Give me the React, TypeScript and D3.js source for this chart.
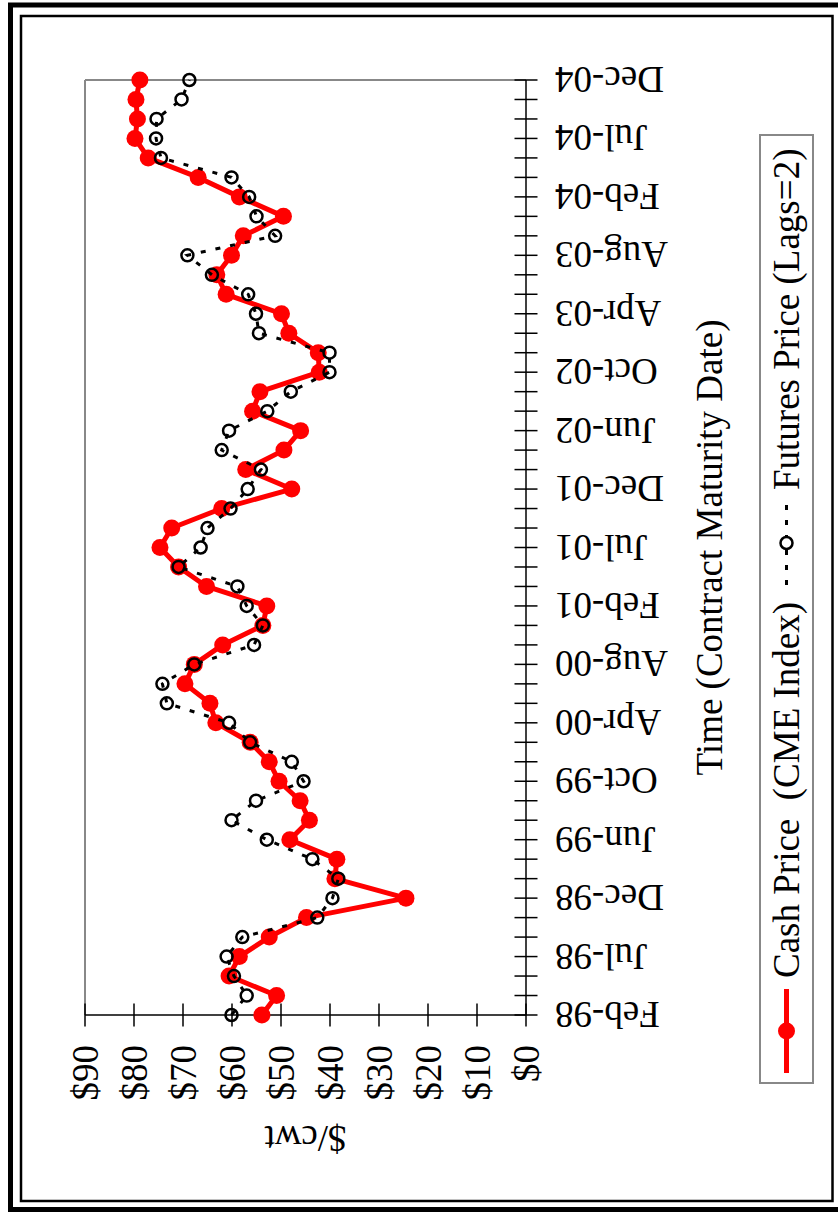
import React from "react";
import * as d3 from "d3";

// contract months, Feb-98 .. Dec-04 (lean hog months)
const categories = [
  "Feb-98", "Apr-98", "Jun-98", "Jul-98", "Aug-98", "Oct-98", "Dec-98",
  "Feb-99", "Apr-99", "Jun-99", "Jul-99", "Aug-99", "Oct-99", "Dec-99",
  "Feb-00", "Apr-00", "Jun-00", "Jul-00", "Aug-00", "Oct-00", "Dec-00",
  "Feb-01", "Apr-01", "Jun-01", "Jul-01", "Aug-01", "Oct-01", "Dec-01",
  "Feb-02", "Apr-02", "Jun-02", "Jul-02", "Aug-02", "Oct-02", "Dec-02",
  "Feb-03", "Apr-03", "Jun-03", "Jul-03", "Aug-03", "Oct-03", "Dec-03",
  "Feb-04", "Apr-04", "Jun-04", "Jul-04", "Aug-04", "Oct-04", "Dec-04"
];

const cashPrice = [
  53.9, 50.9, 60.6, 58.5, 52.4, 44.8, 24.5,
  39.0, 38.6, 48.2, 44.2, 46.1, 50.4, 52.4,
  56.3, 63.3, 64.5, 69.6, 67.7, 61.9, 53.7,
  52.9, 65.2, 70.9, 74.7, 72.3, 62.1, 47.8,
  57.2, 49.4, 46.0, 55.8, 54.3, 42.2, 42.4,
  48.4, 49.9, 61.2, 63.1, 60.1, 57.7, 49.5,
  58.5, 66.9, 77.1, 79.8, 79.3, 79.6, 78.8
];

const futuresPrice = [
  60.1, 57.0, 59.6, 61.1, 57.9, 42.6, 39.5,
  38.3, 43.6, 52.9, 60.1, 55.1, 45.4, 47.8,
  56.3, 60.6, 73.3, 74.2, 67.7, 55.5, 53.7,
  57.0, 58.9, 70.9, 66.4, 65.0, 60.3, 56.8,
  54.1, 62.1, 60.6, 52.8, 48.0, 40.1, 40.1,
  54.5, 55.1, 56.7, 64.1, 69.1, 51.2, 55.0,
  56.5, 60.1, 74.5, 75.5, 75.4, 70.3, 68.7
];

const priceTicks = [0, 10, 20, 30, 40, 50, 60, 70, 80, 90];

const W = 838;
const H = 1213;
const FONT = "'Liberation Serif', 'Times New Roman', serif";
const FS = 37;

export default function App() {
  // chart is laid out landscape, then turned a quarter turn counter-clockwise
  const x = d3.scalePoint<string>().domain(categories).range([198, 1133]);
  const y = d3.scaleLinear().domain([0, 90]).range([526, 85]);

  const cashLine = d3
    .line<number>()
    .x((d, i) => x(categories[i]) as number)
    .y(d => y(d));
  const futLine = d3
    .line<number>()
    .x((d, i) => x(categories[i]) as number)
    .y(d => y(d));

  const left = x.range()[0];
  const right = x.range()[1];
  const top = y(90);
  const bottom = y(0);

  return (
    <svg
      width={W}
      height={H}
      style={{ position: "absolute", left: 0, top: 0, background: "#fff" }}
      fontFamily={FONT}
    >
      <rect x={0} y={0} width={W} height={H} fill="#fff" />
      {/* frames */}
      <rect x={10.5} y={5} width={840} height={1204.5} fill="none" stroke="#000" strokeWidth={5} />
      <rect x={21} y={16} width={811.5} height={1185} fill="none" stroke="#000" strokeWidth={2.5} />

      <g transform={`translate(0,${H}) rotate(-90)`}>
        {/* plot border */}
        <line x1={left} x2={right} y1={top} y2={top} stroke="#888" strokeWidth={2} />
        <line x1={right} x2={right} y1={top} y2={bottom} stroke="#888" strokeWidth={2} />

        {/* value axis */}
        <line x1={left} x2={left} y1={top} y2={bottom} stroke="#000" strokeWidth={1.5} />
        {priceTicks.map(t => (
          <g key={t}>
            <line x1={left - 11.5} x2={left + 11.5} y1={y(t)} y2={y(t)} stroke="#000" strokeWidth={1.5} />
            <text x={168} y={y(t)} dy="0.35em" textAnchor="end" fontSize={FS}>
              {"$" + t}
            </text>
          </g>
        ))}
        <text
          transform={`translate(87,${(top + bottom) / 2}) rotate(-90)`}
          textAnchor="middle"
          fontSize={FS}
        >
          $/cwt
        </text>

        {/* category axis */}
        <line x1={left} x2={right} y1={bottom} y2={bottom} stroke="#000" strokeWidth={1.5} />
        {categories.map((c, i) => (
          <g key={c}>
            <line
              x1={x(c)}
              x2={x(c)}
              y1={bottom - 11.5}
              y2={bottom + 11.5}
              stroke="#000"
              strokeWidth={1.5}
            />
            {i % 3 === 0 && (
              <text
                transform={`translate(${x(c)},555) rotate(-90)`}
                textAnchor="end"
                dy="0.35em"
                fontSize={FS}
              >
                {c}
              </text>
            )}
          </g>
        ))}
        <text x={(left + right) / 2} y={722} textAnchor="middle" fontSize={FS}>
          Time (Contract Maturity Date)
        </text>

        {/* cash series */}
        <path
          d={cashLine(cashPrice) as string}
          fill="none"
          stroke="#ff0000"
          strokeWidth={5}
          strokeLinejoin="round"
        />
        {cashPrice.map((v, i) => (
          <circle key={"c" + i} cx={x(categories[i])} cy={y(v)} r={8.5} fill="#ff0000" />
        ))}

        {/* futures series */}
        <path
          d={futLine(futuresPrice) as string}
          fill="none"
          stroke="#000"
          strokeWidth={3}
          strokeDasharray="5,10"
        />
        {futuresPrice.map((v, i) => (
          <circle
            key={"f" + i}
            cx={x(categories[i])}
            cy={y(v)}
            r={6}
            fill="none"
            stroke="#000"
            strokeWidth={2.5}
          />
        ))}

        {/* legend */}
        <rect x={130} y={760} width={948} height={53} fill="#fff" stroke="#888" strokeWidth={2} />
        <line x1={140} x2={224} y1={786.5} y2={786.5} stroke="#ff0000" strokeWidth={5} />
        <circle cx={182} cy={786.5} r={8.5} fill="#ff0000" />
        <text x={235} y={786.5} dy="0.35em" fontSize={FS} style={{ whiteSpace: "pre" }}>
          {"Cash Price  (CME Index)"}
        </text>
        <line
          x1={628}
          x2={712}
          y1={786.5}
          y2={786.5}
          stroke="#000"
          strokeWidth={3}
          strokeDasharray="5,10"
        />
        <circle cx={670} cy={786.5} r={6} fill="#fff" stroke="#000" strokeWidth={2.5} />
        <text x={723} y={786.5} dy="0.35em" fontSize={FS}>
          Futures Price (Lags=2)
        </text>
      </g>
    </svg>
  );
}
